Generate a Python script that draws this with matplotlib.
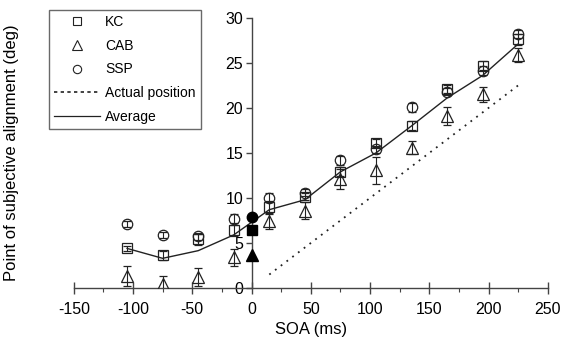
import matplotlib

matplotlib.use("Agg")
import matplotlib.pyplot as plt
from matplotlib.lines import Line2D
from matplotlib.ticker import MultipleLocator

plt.rcParams["font.family"] = ["Liberation Sans", "DejaVu Sans"]
plt.rcParams["axes.unicode_minus"] = False

# SOA conditions (ms), filled markers at 0 are plotted separately
soa = [-105, -75, -45, -15, 15, 45, 75, 105, 135, 165, 195, 225]
kc = [4.4, 3.65, 5.4, 6.4, 9.0, 10.15, 12.9, 16.1, 18.0, 22.1, 24.7, 27.6]
kc_err = [0.3, 0.5, 0.6, 0.6, 0.7, 0.4, 0.5, 0.4, 0.5, 0.4, 0.5, 0.6]
cab = [1.3, 0.5, 1.25, 3.4, 7.4, 8.6, 12.1, 13.1, 15.6, 19.1, 21.5, 25.9]
cab_err = [1.1, 0.8, 1.0, 0.9, 0.8, 0.9, 1.1, 1.5, 0.7, 1.0, 0.8, 0.8]
ssp = [7.1, 5.9, 5.75, 7.7, 10.0, 10.6, 14.2, 15.4, 20.1, 21.8, 24.1, 28.2]
ssp_err = [0.3, 0.3, 0.4, 0.5, 0.5, 0.4, 0.5, 0.4, 0.5, 0.4, 0.5, 0.4]
average = [4.4, 3.3, 4.15, 5.9, 8.7, 9.8, 12.9, 15.0, 18.0, 21.1, 23.6, 27.1]

soa_zero = [0]
kc_zero = [6.5]
cab_zero = [3.7]
ssp_zero = [7.85]

actual_soa = [15, 225]
actual_pos = [1.5, 22.5]

ink = "#222222"

fig = plt.figure(figsize=(5.63, 3.5), dpi=100)
ax = fig.add_axes([0.131, 0.177, 0.842, 0.772])

series = [(kc, kc_err, "s", 7), (cab, cab_err, "^", 8.5), (ssp, ssp_err, "o", 7.5)]
for vals, err, mk, ms in series:
    ax.errorbar(soa, vals, yerr=err, fmt=mk, ms=ms, mfc="none", mec=ink, mew=0.9,
                ecolor=ink, elinewidth=0.8, capsize=3, capthick=0.8, zorder=3)

ax.plot(soa_zero, kc_zero, "s", ms=7, color="black", zorder=4, clip_on=False)
ax.plot(soa_zero, cab_zero, "^", ms=8.5, color="black", zorder=4, clip_on=False)
ax.plot(soa_zero, ssp_zero, "o", ms=7.5, color="black", zorder=4, clip_on=False)

ax.plot(actual_soa, actual_pos, linestyle=(0, (1, 3)), color=ink, lw=1.3)
ax.plot(soa, average, "-", color=ink, lw=1.0)

ax.set_xlim(-150, 250)
ax.set_ylim(0, 30)
ax.spines["left"].set_position(("data", 0))
ax.spines["bottom"].set_position(("data", 0))
ax.spines["top"].set_visible(False)
ax.spines["right"].set_visible(False)
for s in ("left", "bottom"):
    ax.spines[s].set_color("#444444")
    ax.spines[s].set_linewidth(1.0)

ax.xaxis.set_major_locator(MultipleLocator(50))
ax.xaxis.set_minor_locator(MultipleLocator(25))
ax.yaxis.set_major_locator(MultipleLocator(5))
ax.tick_params(axis="x", which="major", direction="inout", length=8, width=1.0,
               color="#444444", labelsize=11.5, pad=6)
ax.tick_params(axis="x", which="minor", direction="out", length=3, width=0.8,
               color="#444444")
ax.tick_params(axis="y", direction="out", length=4, width=1.0, color="#444444",
               labelsize=11.5, pad=2)

ax.set_xlabel("SOA (ms)", fontsize=12, labelpad=4)
ax.set_ylabel("Point of subjective alignment (deg)", fontsize=12)
ax.yaxis.set_label_coords(-0.116, 0.5)

handles = [
    Line2D([], [], marker="s", ls="none", ms=6, mfc="none", mec=ink, mew=0.8),
    Line2D([], [], marker="^", ls="none", ms=7, mfc="none", mec=ink, mew=0.8),
    Line2D([], [], marker="o", ls="none", ms=6, mfc="none", mec=ink, mew=0.8),
    Line2D([], [], ls=(0, (2, 2)), color=ink, lw=1.2),
    Line2D([], [], ls="-", color=ink, lw=0.9),
]
labels = ["KC", "CAB", "SSP", "Actual position", "Average"]
leg = fig.legend(handles, labels, loc="upper left", bbox_to_anchor=(0.087, 0.971),
                 fontsize=10, frameon=True, fancybox=False, handlelength=3.3,
                 handletextpad=0.4, labelspacing=0.7, borderpad=0.35,
                 borderaxespad=0, numpoints=1)
leg.get_frame().set_edgecolor("#444444")
leg.get_frame().set_linewidth(1.0)

fig.savefig("out.png", dpi=100)
